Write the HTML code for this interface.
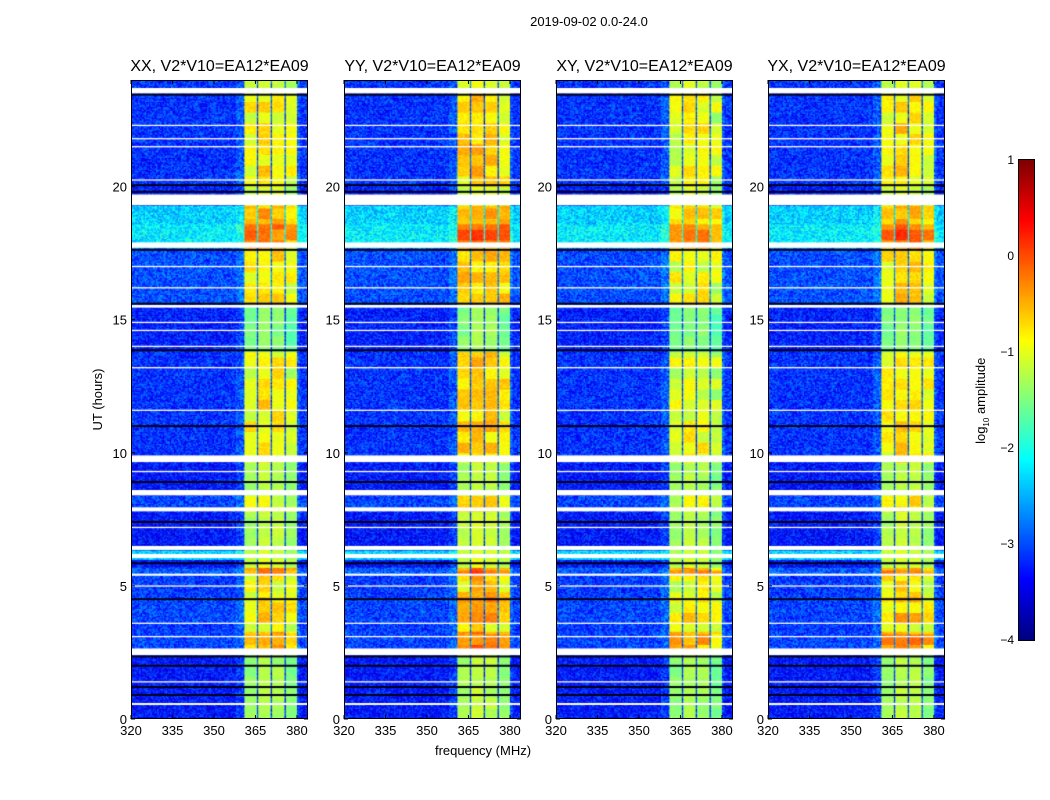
<!DOCTYPE html>
<html><head><meta charset="utf-8">
<style>
body{margin:0;background:#fff;font-family:"Liberation Sans",sans-serif;}
#root{position:relative;width:1050px;height:800px;overflow:hidden;background:#fff;}
.t{position:absolute;color:#000;white-space:nowrap;}
canvas{position:absolute;}
</style></head>
<body>
<div id="root">
<div class="t" style="left:489px;top:14px;width:200px;text-align:center;font-size:13px">2019-09-02 0.0-24.0</div>
<div class="t" style="left:40px;top:392px;width:115px;text-align:center;font-size:13px;transform:rotate(-90deg)">UT (hours)</div>
<div class="t" style="left:383px;top:743px;width:200px;text-align:center;font-size:13px">frequency (MHz)</div>
<div class="t" style="left:922px;top:392px;width:120px;text-align:center;font-size:13px;transform:rotate(-90deg)">log<sub style="font-size:8px">10</sub> amplitude</div>
</div>
<script>
// ---- data ----
const panelTitles = ["XX, V2*V10=EA12*EA09","YY, V2*V10=EA12*EA09","XY, V2*V10=EA12*EA09","YX, V2*V10=EA12*EA09"];
const panelBandOffset = [0, 0.2, -0.1, 0.08];
const xTicks = [320,335,350,365,380];
const yTicks = [0,5,10,15,20];
const cbTicks = [1,0,-1,-2,-3,-4];
const subbandEdges = [361.2,365.4,370.4,375.4,380.0];
const subbandLevel = [-1.2,-1.05,-1.1,-1.3];
const bgLevel = -3.15;
// [startHour, endHour, backgroundLevel, bandOffset]
const timeBlocks = [
 [0,2.4,-3.3,-0.2],[2.65,3.3,-3.05,0.6],[3.3,3.6,-3.1,0.1],[3.6,4.6,-3.05,0.35],[4.6,5.4,-3.1,0.2],
 [5.4,5.7,-2.95,0.7],[5.7,6.0,-3.3,0.0],[6.0,6.35,-2.3,0.0],[6.35,7.8,-3.3,-0.1],[7.8,8.4,-3.05,0.15],
 [8.4,9.65,-3.3,-0.15],[9.65,13.8,-3.15,0.2],[13.8,15.5,-3.25,-0.35],[15.5,17.7,-3.0,0.25],
 [17.7,18.6,-2.2,0.8],[18.6,19.3,-2.35,0.45],[19.3,20.0,-3.25,0.0],[20.0,23.5,-3.15,0.2],[23.5,24.0,-3.15,0.0]
];
const flaggedHours = [[23.5,23.7],[19.3,19.7],[17.7,17.9],[15.45,15.55],[9.65,9.9],[8.4,8.6],[7.8,7.95],[6.35,6.5],[6.05,6.2],[5.38,5.46],[2.4,2.65],[0.55,0.6]];
const whiteLines = [22.3,21.8,21.5,20.25,17.0,16.2,14.9,14.6,14.0,13.2,11.6,9.3,7.2,5.0,3.6,3.1,1.4];
const darkLines = [23.45,20.05,19.8,17.62,15.6,13.85,11.0,8.9,7.4,5.85,4.5,2.35,2.0,1.2,0.9];
const tMin=0,tMax=24,fMin=320,fMax=384;
const panelLefts=[131,344,556,768], panelTop=80, panelW=177, panelH=639;

function xScale(f,left){return left+(f-fMin)/(fMax-fMin)*panelW;}
function yScale(h){return panelTop+panelH-(h-tMin)/(tMax-tMin)*panelH;}
function jet(v){
 function c(x){return Math.max(0,Math.min(1,x));}
 const r=c(1.5-Math.abs(4*v-3)),g=c(1.5-Math.abs(4*v-2)),b=c(1.5-Math.abs(4*v-1));
 return [r*255|0,g*255|0,b*255|0];}
function hash(a,b,c){let h=(a*374761393+b*668265263+c*2147483647)|0;h=(h^(h>>>13))*1274126177;h=h^(h>>>16);return ((h>>>0)%10000)/10000;}
function chanIndex(f){
 for(let i=0;i<subbandLevel.length;i++){
  if(f>=subbandEdges[i]&&f<subbandEdges[i+1]){
   if(i>0&&f<subbandEdges[i]+0.6) return -1;
   return i;}
 }
 return -1;}
function blockAt(h){for(const b of timeBlocks){if(h>=b[0]&&h<b[1])return b;}return [0,0,bgLevel,0];}
const root=document.getElementById('root');
const nRows=480,nCh=128;
panelTitles.forEach((title,p)=>{
 const left=panelLefts[p];
 const cv=document.createElement('canvas');
 cv.width=panelW;cv.height=panelH;cv.style.left=left+'px';cv.style.top=panelTop+'px';
 
 
 root.appendChild(cv);
 const ctx=cv.getContext('2d');
 for(let r=0;r<nRows;r++){
  const h0=tMin+r*(tMax-tMin)/nRows,h1=h0+(tMax-tMin)/nRows,hm=(h0+h1)/2;
  const blk=blockAt(hm);
  const y0=yScale(h1)-panelTop,y1=yScale(h0)-panelTop;
  const patchRow=Math.floor(hm*2.5);
  for(let c=0;c<nCh;c++){
   const f0=fMin+c*(fMax-fMin)/nCh,f1=f0+(fMax-fMin)/nCh,fm=(f0+f1)/2;
   const ci=chanIndex(fm);
   let v;
   if(ci<0){ v=blk[2]+(fm>358&&fm<381?0.2:0)+(hash(r,c,p)-0.5)*0.8; }
   else {
    const patch=(hash(patchRow,ci,p+3)-0.5)*0.5;
    const off=blk[3]>0?blk[3]+patchRow%2*0.1+patch:blk[3]+patch*0.3;
    v=subbandLevel[ci]+off+panelBandOffset[p]*(blk[3]>0?1:0.4)+(hash(r,c,p+7)-0.5)*0.25; }
   const n=Math.max(0,Math.min(1,(v+4)/5));
   const col=jet(n);
   ctx.fillStyle='rgb('+col+')';
   ctx.fillRect(xScale(f0,0),y0,xScale(f1,0)-xScale(f0,0)+0.5,y1-y0+0.5);
  }
 }
 ctx.fillStyle='#000018';
 darkLines.forEach(h=>{ctx.fillRect(0,yScale(h)-panelTop-1,panelW,2);});
 ctx.fillStyle='#fff';
 whiteLines.forEach(h=>{ctx.fillRect(0,yScale(h)-panelTop-0.5,panelW,1.3);});
 flaggedHours.forEach(fh=>{const a=yScale(fh[1])-panelTop,b=yScale(fh[0])-panelTop;ctx.fillRect(0,a,panelW,Math.max(2,b-a));});
 const ns='http://www.w3.org/2000/svg';
 const svg=document.createElementNS(ns,'svg');
 svg.setAttribute('width',panelW+60);svg.setAttribute('height',panelH+40);
 svg.style.position='absolute';svg.style.left=(left-40)+'px';svg.style.top=panelTop+'px';svg.style.overflow='visible';
 
 
 let s='<rect x="40.5" y="0.5" width="'+(panelW-1)+'" height="'+(panelH-1)+'" fill="none" stroke="#000" stroke-width="1"/>';
 xTicks.forEach(t=>{const x=xScale(t,40);s+='<line x1="'+x+'" x2="'+x+'" y1="'+panelH+'" y2="'+(panelH-4)+'" stroke="#000"/><line x1="'+x+'" x2="'+x+'" y1="0" y2="4" stroke="#000"/><text x="'+x+'" y="'+(panelH+16)+'" font-size="13" text-anchor="middle" font-family="Liberation Sans">'+t+'</text>';});
 yTicks.forEach(t=>{const y=yScale(t)-panelTop;s+='<line x1="40" x2="44" y1="'+y+'" y2="'+y+'" stroke="#000"/><line x1="'+(40+panelW)+'" x2="'+(36+panelW)+'" y1="'+y+'" y2="'+y+'" stroke="#000"/><text x="36" y="'+(y+5)+'" font-size="13" text-anchor="end" font-family="Liberation Sans">'+t+'</text>';});
 svg.innerHTML=s;
 root.appendChild(svg);
 const tt=document.createElement('div');
 tt.className='t';
 tt.style.cssText='left:'+(left-30)+'px;top:58px;width:'+(panelW+60)+'px;text-align:center;font-size:16px';
 tt.textContent=title;
 
 
 root.appendChild(tt);
});
const cb=document.createElement('canvas');
cb.width=15;cb.height=480;cb.style.left='1019px';cb.style.top='160px';cb.style.outline='1px solid #000';


root.appendChild(cb);
const cctx=cb.getContext('2d');
for(let y=0;y<480;y++){cctx.fillStyle='rgb('+jet(1-y/479)+')';cctx.fillRect(0,y,15,1);}
cbTicks.forEach(t=>{
 const y=160+(1-t)/5*480;
 const d=document.createElement('div');
 d.className='t';
 d.style.cssText='left:973px;top:'+(y-7)+'px;width:41px;text-align:right;font-size:12px';
 d.textContent=t<0?'\u2212'+(-t):String(t);
 
 
 root.appendChild(d);
});
</script>
</body></html>
